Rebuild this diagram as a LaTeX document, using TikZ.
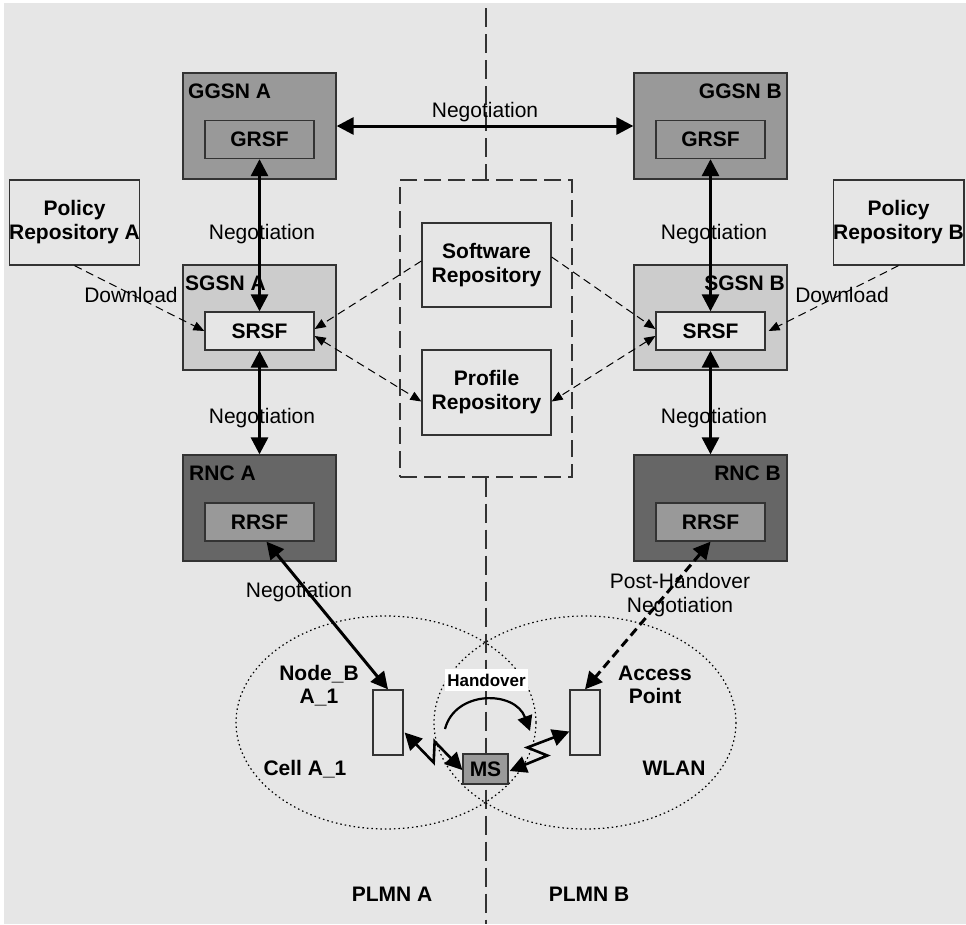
\documentclass[tikz,border=0pt]{standalone}
\usepackage{fontspec}
\setmainfont{Liberation Sans}
\usetikzlibrary{arrows.meta,calc}

\definecolor{bg}{HTML}{E6E6E6}
\definecolor{edge}{HTML}{333333}
\definecolor{midgrey}{HTML}{999999}
\definecolor{lightgrey}{HTML}{CCCCCC}
\definecolor{darkgrey}{HTML}{666666}

\begin{document}
\begin{tikzpicture}[x=1pt,y=-1pt,
  every node/.style={font=\fontsize{21}{24}\selectfont},
  lbl/.style={font=\fontsize{21}{24}\selectfont\bfseries, inner sep=0pt},
  txt/.style={inner sep=0pt, align=center},
  btxt/.style={txt, font=\fontsize{21}{24}\selectfont\bfseries, anchor=base},
  box/.style={draw=edge, line width=1.3pt, inner sep=0pt, align=center,
              font=\fontsize{21}{24}\selectfont\bfseries},
  outer/.style={box, minimum width=153pt, minimum height=106pt},
  inner/.style={box, minimum width=109pt, minimum height=38pt},
  repo/.style={box, fill=bg, minimum width=129pt, minimum height=85pt},
  cellsite/.style={box, fill=bg, minimum width=30pt, minimum height=65pt},
  nego/.style={line width=3pt, {Triangle[length=17pt,width=17pt]}-{Triangle[length=17pt,width=17pt]}},
  fetch/.style={line width=1pt, dash pattern=on 8pt off 5pt, -{Triangle[length=11pt,width=9pt]}},
  fetchboth/.style={line width=1pt, dash pattern=on 8pt off 5pt,
                    {Triangle[length=11pt,width=9pt]}-{Triangle[length=11pt,width=9pt]}},
  postnego/.style={line width=3pt, dash pattern=on 9pt off 5pt,
                   {Triangle[length=17pt,width=17pt]}-{Triangle[length=17pt,width=17pt]}},
  radio/.style={line width=2.6pt, line join=miter,
                {Triangle[length=17pt,width=17pt]}-{Triangle[length=17pt,width=17pt]}},
  divider/.style={line width=1.2pt, draw=edge, dash pattern=on 19pt off 7pt},
  cellrange/.style={line width=1.2pt, dash pattern=on 1.5pt off 3pt},
]
\useasboundingbox (0,0) rectangle (966,924);
\fill[bg] (4,3) rectangle (966,924);

% repository enclosure and PLMN border
\node[draw=edge, line width=1.2pt, dash pattern=on 17pt off 7pt,
      minimum width=172pt, minimum height=297pt, inner sep=0pt] (dbox) at (486,328.5) {};
\coordinate (divTop) at (486,8);
\coordinate (divBot) at (486,924);
\draw[divider] (divTop) -- (dbox.north);
\draw[divider] (dbox.south) -- (divBot);

% radio cells
\draw[cellrange] (386,722.5) ellipse [x radius=150, y radius=106.5];
\draw[cellrange] (585,722.5) ellipse [x radius=151, y radius=106.5];

% GGSNs
\node[outer, fill=midgrey] (ggsnA) at (259.5,126) {};
\node[inner, fill=midgrey] (grsfA) at (259.5,139.5) {GRSF};
\node[lbl, anchor=base west] at (188,98) {GGSN A};
\node[outer, fill=midgrey] (ggsnB) at (710.5,126) {};
\node[inner, fill=midgrey] (grsfB) at (710.5,139.5) {GRSF};
\node[lbl, anchor=base east] at (782,98) {GGSN B};

% SGSNs
\node[outer, fill=lightgrey, minimum height=105pt] (sgsnA) at (259.5,317.5) {};
\node[inner, fill=bg] (srsfA) at (259.5,331) {SRSF};
\node[lbl, anchor=base west] at (185,290) {SGSN A};
\node[outer, fill=lightgrey, minimum height=105pt] (sgsnB) at (710.5,317.5) {};
\node[inner, fill=bg] (srsfB) at (710.5,331) {SRSF};
\node[lbl, anchor=base east] at (785,290) {SGSN B};

% RNCs
\node[outer, fill=darkgrey] (rncA) at (259.5,508) {};
\node[inner, fill=midgrey] (rrsfA) at (259.5,522) {RRSF};
\node[lbl, anchor=base west] at (189,480) {RNC A};
\node[outer, fill=darkgrey] (rncB) at (710.5,508) {};
\node[inner, fill=midgrey] (rrsfB) at (710.5,522) {RRSF};
\node[lbl, anchor=base east] at (781,480) {RNC B};

% repositories
\node[repo] (polA) at (74.5,222.5) {Policy\\Repository A};
\node[repo] (polB) at (898.5,222.5) {Policy\\Repository B};
\node[repo, minimum height=84pt] (swRepo) at (486.5,265) {Software\\Repository};
\node[repo] (profRepo) at (486.5,392.5) {Profile\\Repository};

% radio access
\node[cellsite] (nodeB) at (388,722.5) {};
\node[cellsite] (ap) at (585,722.5) {};
\node[box, fill=midgrey, minimum width=45pt, minimum height=30pt] (ms) at (485.5,769) {MS};

% negotiation links
\draw[nego] (ggsnA.east) -- (ggsnB.west);
\node[txt, anchor=base] at (485,117) {Negotiation};
\draw[nego] (grsfA.south) -- (srsfA.north);
\draw[nego] (srsfA.south) -- (rncA.north);
\draw[nego] (grsfB.south) -- (srsfB.north);
\draw[nego] (srsfB.south) -- (rncB.north);
\node[txt, anchor=base] at (262,239) {Negotiation};
\node[txt, anchor=base] at (262,423) {Negotiation};
\node[txt, anchor=base] at (714,239) {Negotiation};
\node[txt, anchor=base] at (714,423) {Negotiation};

\draw[nego] ($(rrsfA.south)+(7,0)$) -- (nodeB.north);
\node[txt, anchor=base] at (299,597) {Negotiation};

\draw[postnego] (rrsfB.south) -- (ap.north);
\node[txt, anchor=base] at (680,588) {Post-Handover};
\node[txt, anchor=base] at (680,612) {Negotiation};

% downloads and repository access
\draw[fetch] (polA.south) -- (srsfA.west);
\node[txt, anchor=base] at (131,302) {Download};
\draw[fetch] (polB.south) -- ($(srsfB.east)+(3,0)$);
\node[txt, anchor=base] at (842,302) {Download};

\draw[fetch] ($(swRepo.west)+(0,-4)$) -- ($(srsfA.east)+(0,-2)$);
\draw[fetchboth] ($(srsfA.east)+(0,5)$) -- ($(profRepo.west)+(0,9)$);
\draw[fetch] ($(swRepo.east)+(0,-8)$) -- ($(srsfB.west)+(0,-2)$);
\draw[fetchboth] ($(srsfB.west)+(0,5)$) -- ($(profRepo.east)+(0,9)$);

% radio links
\draw[radio] ($(nodeB.east)+(1,10)$) -- ++(29,30) -- ++(1,-21) -- ($(ms.west)+(0,1)$);
\draw[radio] ($(ap.west)+(0,9)$) -- ++(-42,16) -- ++(20,8) -- ($(ms.east)+(1,2)$);

% handover
\node[lbl, fill=white, font=\fontsize{17}{20}\selectfont\bfseries,
      minimum width=83pt, minimum height=22pt] (hov) at (486.5,680) {Handover};
\draw[line width=2.2pt, -{Triangle[length=15pt,width=15pt]}]
  (445,729) .. controls (455,690) and (515,690) .. (530,731);

% cell labels
\node[btxt] at (319,680) {Node\_B};
\node[btxt] at (319,703) {A\_1};
\node[btxt] at (655,680) {Access};
\node[btxt] at (655,703) {Point};
\node[btxt] at (305,775) {Cell A\_1};
\node[btxt] at (674,775) {WLAN};
\node[btxt] at (392,901) {PLMN A};
\node[btxt] at (589,901) {PLMN B};
\end{tikzpicture}
\end{document}
